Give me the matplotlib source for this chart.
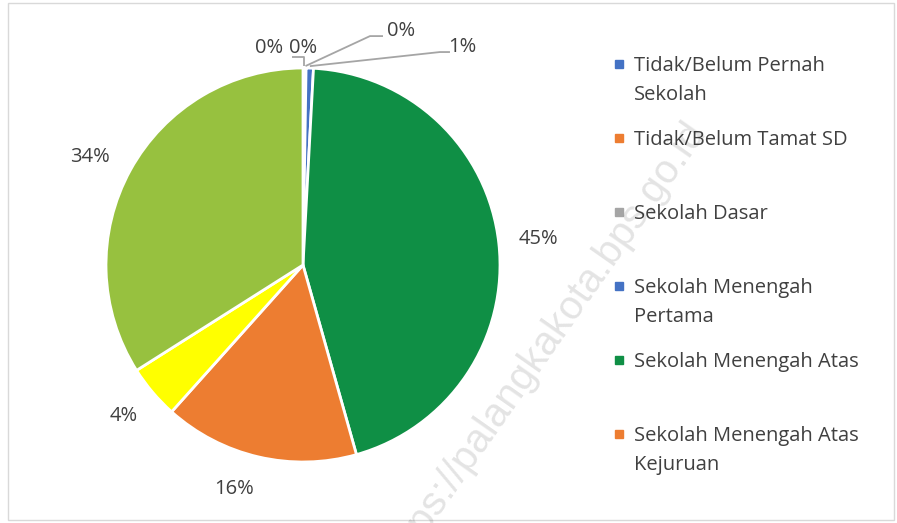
import numpy as np
import matplotlib.pyplot as plt
from matplotlib.patches import Rectangle

categories = [
    "Tidak/Belum Pernah\nSekolah",
    "Tidak/Belum Tamat SD",
    "Sekolah Dasar",
    "Sekolah Menengah\nPertama",
    "Sekolah Menengah Atas",
    "Sekolah Menengah Atas\nKejuruan",
    "Diploma",
    "Sarjana",
]
shares = [0.1, 0.05, 0.1, 0.6, 44.8, 16.0, 4.4, 34.0]
pct_labels = ["0%", "0%", "0%", "1%", "45%", "16%", "4%", "34%"]
colors = ["#4472C4", "#ED7D31", "#A5A5A5", "#4472C4",
          "#0F8F45", "#ED7D31", "#FFFF00", "#97C13F"]
n_legend = 6  # the rest of the legend is cut off in the original

W, H = 897, 523
plt.rcParams['font.family'] = ['Open Sans', 'DejaVu Sans']
fig = plt.figure(figsize=(W / 100, H / 100), dpi=100)

# outer chart frame
fig.patches.append(Rectangle((8 / W, 3 / H), 886 / W, 517 / H, transform=fig.transFigure,
                             fill=False, edgecolor="#D9D9D9", lw=1))

cx, cy, r = 303, 265, 197
ax = fig.add_axes([(cx - r) / W, (H - cy - r) / H, 2 * r / W, 2 * r / H])
wedges, _ = ax.pie(shares, colors=colors, startangle=90, counterclock=False,
                   wedgeprops=dict(edgecolor="white", linewidth=2))
ax.set_xlim(-1, 1)
ax.set_ylim(-1, 1)
ax.set_aspect("auto")

txt_col = "#404040"
fs = 14.5
# big slices: label outside at fixed distance
label_dist = [1.2, 1.19, 1.19, 1.21]
label_shift = [0, -4, 0, 2]  # degrees, Excel nudges a bit
for w, lab, d, s in zip(wedges[4:], pct_labels[4:], label_dist, label_shift):
    mid = np.deg2rad((w.theta1 + w.theta2) / 2 + s)
    ax.text(d * np.cos(mid), d * np.sin(mid), lab, ha="center", va="center",
            fontsize=fs, color=txt_col)

# tiny slices at the top: labels pulled out with leader lines
small_pos = [(-0.17, 1.10), (0.0, 1.10), (0.50, 1.19), (0.81, 1.107)]
leader_pts = [
    [(-0.056, 1.056)],
    None,
    [(0.34, 1.162), (0.406, 1.162)],
    [(0.695, 1.081), (0.746, 1.081)],
]
for w, lab, pos, pts in zip(wedges[:4], pct_labels[:4], small_pos, leader_pts):
    ax.text(pos[0], pos[1], lab, ha="center", va="center", fontsize=fs,
            color=txt_col, clip_on=False)
    if pts is None:
        continue
    mid = np.deg2rad((w.theta1 + w.theta2) / 2)
    ex, ey = 1.01 * np.cos(mid), 1.01 * np.sin(mid)
    if len(pts) == 1:
        xs = [ex, ex, pts[0][0]]
        ys = [ey, pts[0][1], pts[0][1]]
    else:
        xs = [ex] + [p[0] for p in pts]
        ys = [ey] + [p[1] for p in pts]
    ax.plot(xs, ys, color="#A5A5A5", lw=1.3, clip_on=False, solid_capstyle="butt")

# legend drawn by hand, evenly spaced like the original
leg_top, leg_step = 64, 74
for i in range(n_legend):
    y = leg_top + i * leg_step
    fig.patches.append(Rectangle((615 / W, (H - y - 4) / H), 8 / W, 8 / H,
                                 transform=fig.transFigure, color=colors[i]))
    fig.text(634 / W, (H - y + 8) / H, categories[i], ha="left", va="top",
             fontsize=fs, color=txt_col, linespacing=1.62)

# watermark (cut off at the bottom edge, as in the original)
fig.text(697 / W, (H - 125) / H, "https://palangkakota.bps.go.id", rotation=55,
         rotation_mode="anchor", ha="right", va="center", fontsize=29,
         color="black", alpha=0.11, family=["Liberation Sans", "DejaVu Sans"])

fig.savefig("out.png", dpi=100)
